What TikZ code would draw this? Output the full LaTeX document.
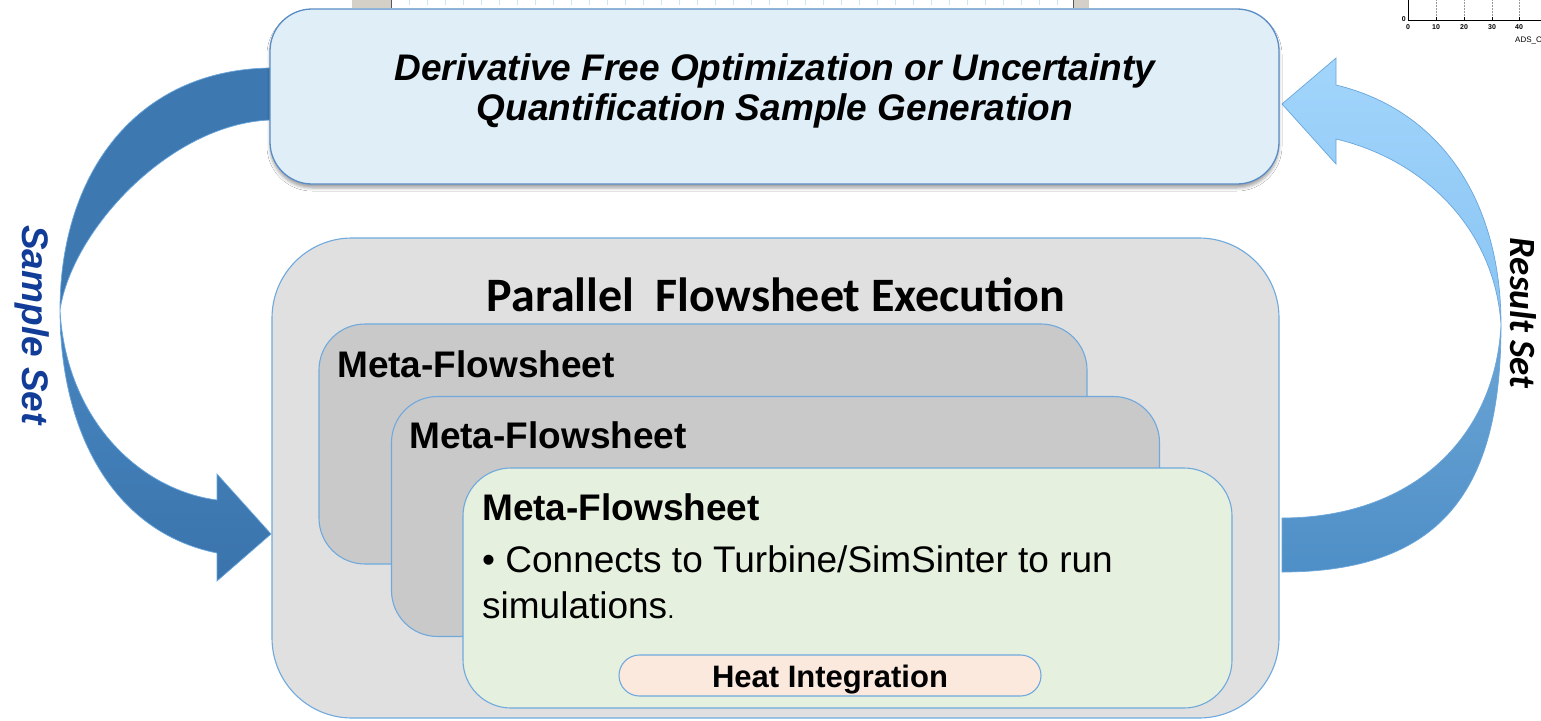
\documentclass[tikz,border=0pt]{standalone}
\usepackage{fontspec}
\setmainfont{Liberation Sans}
\newfontfamily\calibri{Carlito}
\usetikzlibrary{shadows.blur}

\definecolor{topfill}{HTML}{DFEEF7}
\definecolor{topedge}{HTML}{5A8CC6}
\definecolor{panelgray}{HTML}{E0E0E0}
\definecolor{metagray}{HTML}{C9C9C9}
\definecolor{metagreen}{HTML}{E6F0DF}
\definecolor{heatfill}{HTML}{FCE9DE}
\definecolor{boxedge}{HTML}{6FA9DD}
\definecolor{darkarrowA}{HTML}{3D78B0}
\definecolor{darkarrowB}{HTML}{4786C1}
\definecolor{darkarrowC}{HTML}{3B74AC}
\definecolor{lightarrowA}{HTML}{A2D5FB}
\definecolor{lightarrowB}{HTML}{88C4F3}
\definecolor{midarrowA}{HTML}{6CA5D5}
\definecolor{midarrowB}{HTML}{4E8FC7}
\definecolor{arrowedge}{HTML}{6AA6DC}
\definecolor{labelblue}{HTML}{113C98}
\definecolor{framegray}{HTML}{D4D0C8}
\definecolor{gridtick}{HTML}{CDE6F5}

\tikzset{
  panel/.style={draw=boxedge, line width=1.1pt, inner sep=0pt, outer sep=0pt},
  metabox/.style={panel, fill=metagray, minimum width=768pt, minimum height=240pt, rounded corners=46pt},
  metatitle/.style={anchor=base west, inner sep=0pt, font=\fontsize{37}{40}\selectfont\bfseries},
  bodytext/.style={anchor=base west, inner sep=0pt, font=\fontsize{37}{40}\selectfont},
  toptext/.style={anchor=base, inner sep=0pt, font=\fontsize{37}{40}\selectfont\bfseries\itshape},
  bandedge/.style={draw=arrowedge, line width=0.7pt},
  axislabel/.style={inner sep=0pt, font=\fontsize{7}{8}\selectfont\bfseries},
}

\begin{document}
\begin{tikzpicture}[x=1pt, y=-1pt]
\useasboundingbox (0,0) rectangle (1541,720);
\fill[white] (0,0) rectangle (1541,720);

% strip of a window frame along the upper edge
\fill[framegray] (352,0) rectangle (391,8);
\draw[black!65, line width=1pt] (391,0) -- (391,8);
\fill[framegray] (1073,0) rectangle (1089,8);
\draw[black!65, line width=1pt] (1073,0) -- (1073,8);
\foreach \gx in {409,427,...,1065} {
  \draw[gridtick, line width=0.8pt] (\gx,0) -- (\gx,5);
}

% corner of a plot in the upper right
\begin{scope}
\clip (1380,0) rectangle (1541,60);
\foreach \gx in {1436,1464,1492,1519} {
  \draw[black!40, densely dotted, line width=0.5pt] (\gx,0) -- (\gx,20);
  \draw[black, line width=0.6pt] (\gx,20) -- (\gx,17);
}
\draw[black, line width=0.8pt] (1408,0) -- (1408,20) -- (1541,20);
\node[axislabel, anchor=east] (ytick) at (1406,19) {0};
\node[axislabel, anchor=north] (xa) at (1408,24) {0};
\node[axislabel, anchor=north] (xb) at (1436,24) {10};
\node[axislabel, anchor=north] (xc) at (1464,24) {20};
\node[axislabel, anchor=north] (xd) at (1492,24) {30};
\node[axislabel, anchor=north] (xe) at (1519,24) {40};
\node[axislabel, anchor=north west, font=\fontsize{8}{9}\selectfont] (xlab) at (1515,37) {ADS\_C};
\end{scope}

% left curved arrow: upper band
\path[bandedge, fill=darkarrowA]
  (270,68) .. controls (135,70) and (60,175) .. (60,310)
  .. controls (72,230) and (170,124) .. (270,120) -- cycle;
% left curved arrow: lower band with head
\path[bandedge, top color=darkarrowB, bottom color=darkarrowC]
  (60,310) .. controls (60,430) and (112,532) .. (217,553)
  -- (217,581) -- (271,534) -- (217,474) -- (217,500)
  .. controls (140,490) and (66,420) .. (60,310) -- cycle;

% right curved arrow: lower band
\path[bandedge, top color=midarrowA, bottom color=midarrowB]
  (1282,572) .. controls (1450,572) and (1501,480) .. (1501,325)
  .. controls (1495,440) and (1410,518) .. (1282,518) -- cycle;
% right curved arrow: upper band with head
\path[bandedge, top color=lightarrowA, bottom color=lightarrowB]
  (1501,325) .. controls (1501,200) and (1440,110) .. (1336,85)
  -- (1336,58) -- (1282,104) -- (1336,164) -- (1336,139)
  .. controls (1425,160) and (1495,230) .. (1501,325) -- cycle;

% optimisation / sampling box
\node[draw=topedge, line width=1.3pt, fill=topfill, rounded corners=42pt,
      minimum width=1009pt, minimum height=175pt, inner sep=0pt,
      blur shadow={shadow xshift=0pt, shadow yshift=-4pt, shadow blur radius=3pt, shadow opacity=35}]
      (gen) at (774.5,96.5) {};
\node[toptext] (genA) at (775,80) {Derivative Free Optimization or Uncertainty};
\node[toptext] (genB) at (775,120) {Quantification Sample Generation};

% parallel execution panel
\node[panel, fill=panelgray, minimum width=1007pt, minimum height=480pt, rounded corners=80pt]
      (exec) at (775.5,478) {};
\node[anchor=base, inner sep=0pt, font=\calibri\fontsize{48}{52}\selectfont\bfseries]
      (execT) at (776,311) {Parallel\ \ Flowsheet Execution};

% stacked meta-flowsheets
\node[metabox] (mfA) at (703,444) {};
\node[metatitle] (mfAT) at (337,377) {Meta-Flowsheet};
\node[metabox] (mfB) at (775.5,516.5) {};
\node[metatitle] (mfBT) at (409,448) {Meta-Flowsheet};
\node[metabox, fill=metagreen, minimum width=769pt, rounded corners=48pt] (mfC) at (847.5,588) {};
\node[metatitle] (mfCT) at (482,520) {Meta-Flowsheet};
\node[bodytext] (mfCB) at (482,572) {• Connects to Turbine/SimSinter to run};
\node[bodytext] (mfCS) at (482,618) {simulations{\fontsize{26}{28}\selectfont.}};

% heat integration pill
\node[panel, fill=heatfill, minimum width=422pt, minimum height=41pt, rounded corners=20.5pt]
      (heat) at (830,675.5) {};
\node[anchor=base, inner sep=0pt, font=\fontsize{31}{34}\selectfont\bfseries]
      (heatT) at (830,687) {Heat Integration};

% arrow labels
\node[anchor=base, inner sep=0pt, rotate=-90, text=labelblue,
      font=\fontsize{37}{40}\selectfont\bfseries\itshape] (sample) at (22,325) {Sample Set};
\node[anchor=base, inner sep=0pt, rotate=-90,
      font=\calibri\fontsize{37}{40}\selectfont\bfseries\itshape] (result) at (1510,313) {Result Set};
\end{tikzpicture}
\end{document}
